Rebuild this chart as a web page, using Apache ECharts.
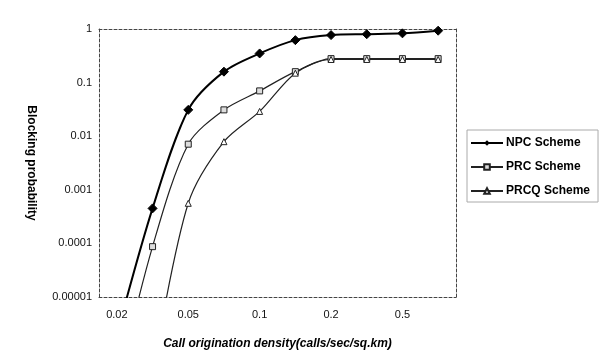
<!DOCTYPE html>
<html>
<head>
<meta charset="utf-8">
<script src="https://cdn.jsdelivr.net/npm/echarts@6/dist/echarts.min.js"></script>
<style>
  html, body { margin: 0; padding: 0; background: #fff; }
  #chart { width: 605px; height: 351px; }
</style>
</head>
<body>
<div id="chart"></div>
<script>
// call origination density categories (every other one labelled)
const densities = ['0.02', '0.03', '0.05', '0.07', '0.1', '0.15', '0.2', '0.3', '0.5', '0.7'];
// blocking probability per scheme
const npc = [0.000002, 0.00045, 0.031, 0.16, 0.35, 0.62, 0.77, 0.80, 0.83, 0.93];
const prc = [0.0000002, 0.000087, 0.0071, 0.031, 0.07, 0.16, 0.28, 0.28, 0.28, 0.28];
const prcq = [0.000000001, 0.0000005, 0.00056, 0.0079, 0.029, 0.15, 0.27, 0.27, 0.27, 0.27];
const yTickLabels = ['1', '0.1', '0.01', '0.001', '0.0001', '0.00001'];

const font = '"Liberation Sans", Arial, sans-serif';
const borderLine = { show: true, lineStyle: { color: '#444', width: 1, type: [3, 2] } };

const chart = echarts.init(document.getElementById('chart'));

chart.setOption({
  animation: false,
  textStyle: { fontFamily: font },
  grid: { left: 99, right: 149, top: 29, bottom: 54, containLabel: false, outerBoundsMode: 'none' },
  legend: {
    orient: 'vertical',
    left: 467,
    top: 130,
    padding: [7, 8, 5, 3],
    itemGap: 12,
    itemWidth: 32,
    itemHeight: 7,
    borderColor: '#aaa',
    borderWidth: 1,
    textStyle: { fontFamily: font, fontSize: 12, fontWeight: 'bold', color: '#000', padding: [0, 0, 0, -2] },
    data: ['NPC Scheme', 'PRC Scheme', 'PRCQ Scheme']
  },
  xAxis: [
    {
      type: 'category',
      data: densities,
      boundaryGap: true,
      axisLine: borderLine,
      axisTick: { show: false },
      axisLabel: { interval: 1, fontSize: 11, color: '#111', margin: 12, fontFamily: font },
      splitLine: { show: false },
      name: 'Call origination density(calls/sec/sq.km)',
      nameLocation: 'middle',
      nameGap: 41,
      nameTextStyle: { fontSize: 12, fontWeight: 'bold', fontStyle: 'italic', color: '#000', fontFamily: font }
    },
    {
      type: 'category',
      data: densities,
      position: 'top',
      axisLine: borderLine,
      axisTick: { show: false },
      axisLabel: { show: false }
    }
  ],
  yAxis: [
    {
      type: 'log',
      logBase: 10,
      min: 0.00001,
      max: 1,
      axisLine: borderLine,
      axisTick: { show: false },
      splitLine: { show: false },
      axisLabel: {
        fontSize: 11,
        color: '#111',
        margin: 7,
        fontFamily: font,
        formatter: v => yTickLabels[Math.round(-Math.log10(v))]
      },
      name: 'Blocking probability',
      nameLocation: 'middle',
      nameRotate: -90,
      nameGap: 62,
      nameTextStyle: { fontSize: 12, fontWeight: 'bold', color: '#000', fontFamily: font }
    },
    {
      type: 'log',
      logBase: 10,
      min: 0.00001,
      max: 1,
      position: 'right',
      axisLine: borderLine,
      axisTick: { show: false },
      axisLabel: { show: false },
      splitLine: { show: false }
    }
  ],
  series: [
    {
      name: 'NPC Scheme',
      type: 'line',
      data: npc,
      smooth: 0.3,
      clip: true,
      symbol: 'diamond',
      symbolSize: 9,
      lineStyle: { color: '#000', width: 2 },
      itemStyle: { color: '#000', borderColor: '#000' },
      z: 3
    },
    {
      name: 'PRC Scheme',
      type: 'line',
      data: prc,
      smooth: 0.3,
      clip: true,
      symbol: 'rect',
      symbolSize: 6,
      lineStyle: { color: '#222', width: 1.2 },
      itemStyle: { color: '#ddd', borderColor: '#222', borderWidth: 1 },
      z: 2
    },
    {
      name: 'PRCQ Scheme',
      type: 'line',
      data: prcq,
      smooth: 0.3,
      clip: true,
      symbol: 'triangle',
      symbolSize: 6,
      lineStyle: { color: '#222', width: 1.2 },
      itemStyle: { color: '#fff', borderColor: '#222', borderWidth: 1 },
      z: 2
    }
  ]
});
</script>
</body>
</html>
